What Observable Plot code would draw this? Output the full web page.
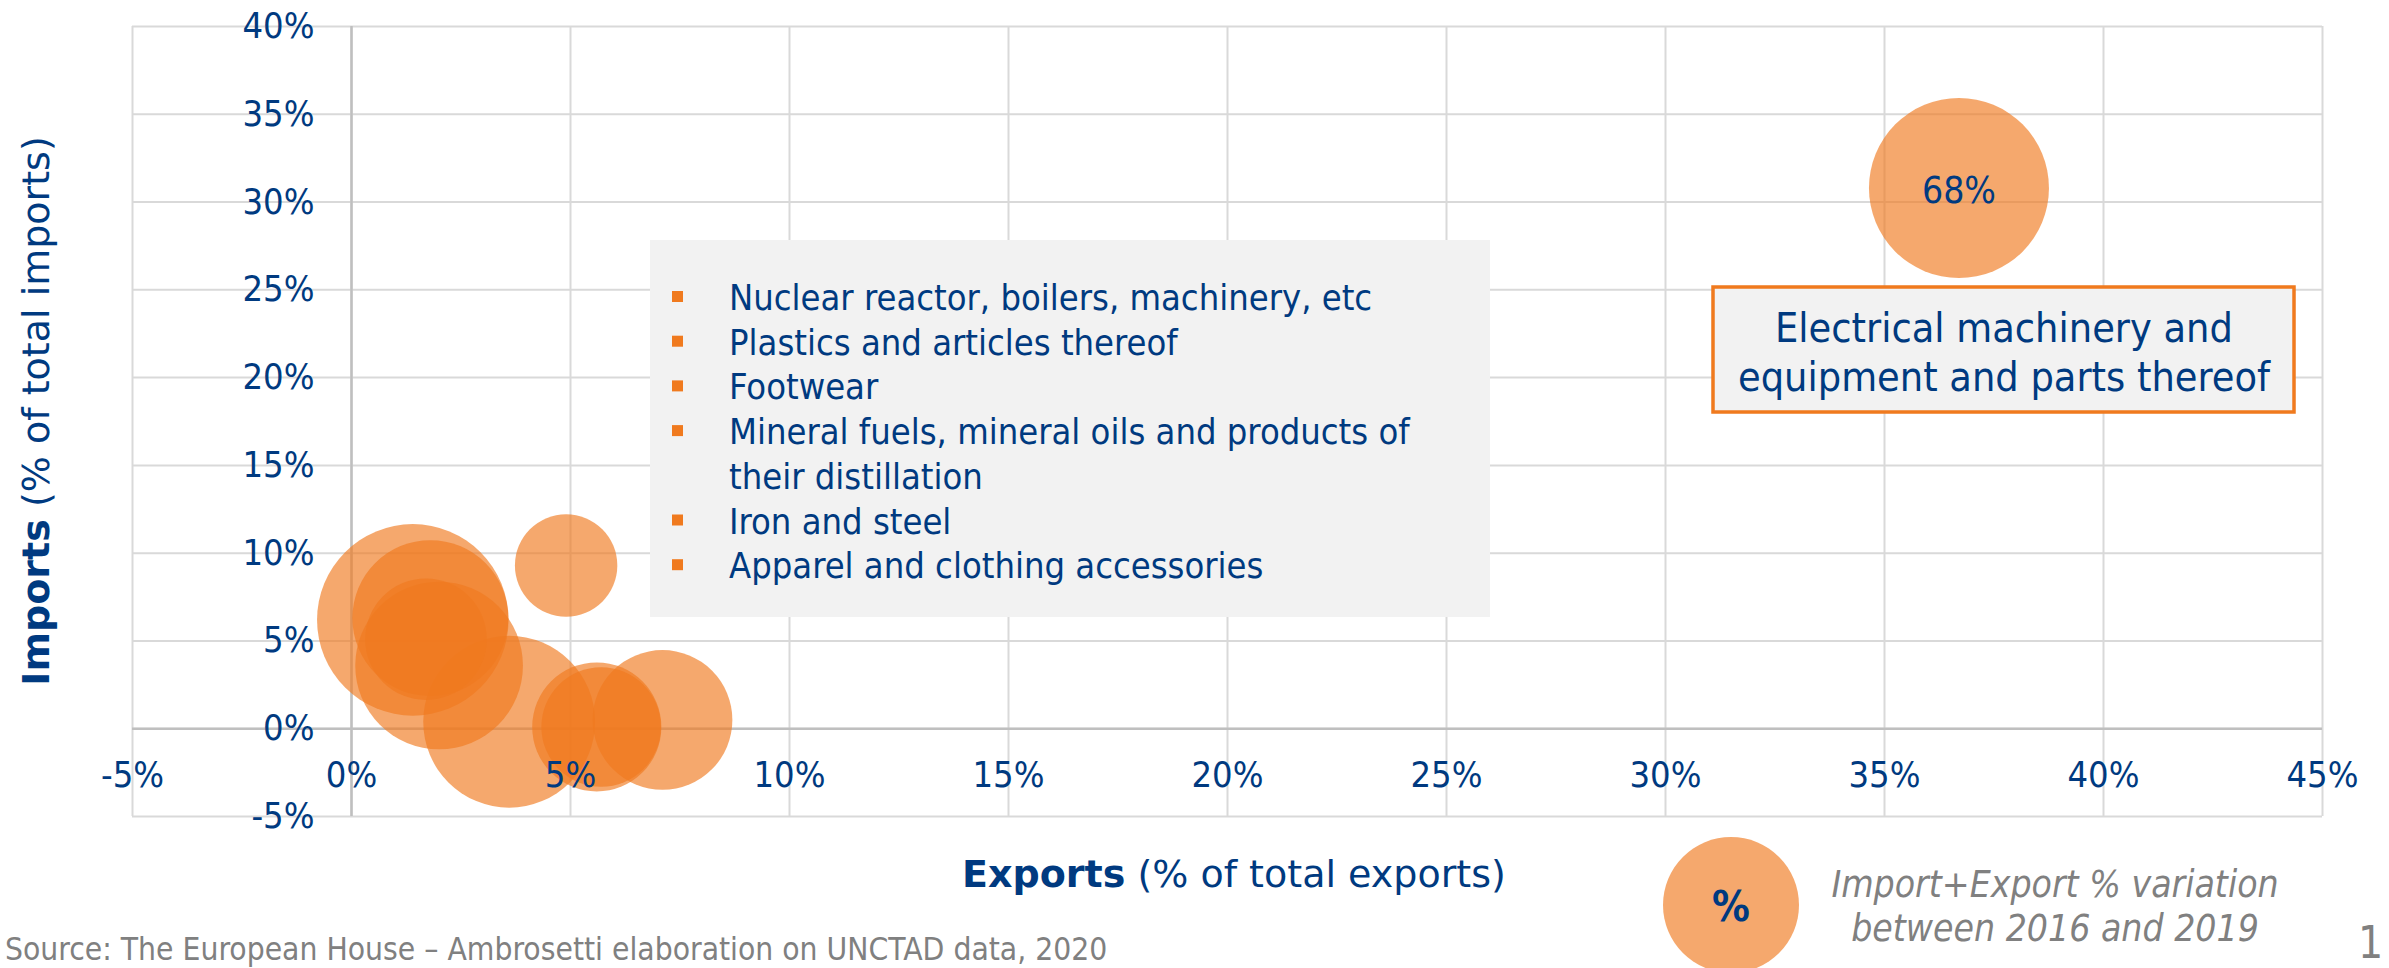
<!DOCTYPE html>
<html>
<head>
<meta charset="utf-8">
<script src="https://cdn.jsdelivr.net/npm/d3@7"></script>
<script src="https://cdn.jsdelivr.net/npm/@observablehq/plot@0.6"></script>
<style>
  html, body { margin: 0; padding: 0; background: #ffffff; }
  #wrap {
    position: relative; width: 2389px; height: 968px; overflow: hidden;
    font-family: "DejaVu Sans Condensed", "DejaVu Sans", sans-serif;
  }
  #wrap > svg { position: absolute; left: 0; top: 0; }
</style>
</head>
<body>
<div id="wrap"></div>
<script>
// Share of total exports (%), share of total imports (%) and
// import+export % variation 2016–2019, one entry per product category bubble
const exportsShare = [1.4, 1.8, 2.0, 1.7, 3.6, 4.9, 5.6, 5.7, 7.1, 36.7];
const importsShare = [6.2, 6.3, 3.6, 5.1, 0.4, 9.3, 0.1, 0.1, 0.5, 30.8];
const variation    = [77, 51, 59, 31, 62, 22, 35, 30, 41, 68];
const labelled     = [false, false, false, false, false, false, false, false, false, true];

const xTicks = [-5, 0, 5, 10, 15, 20, 25, 30, 35, 40, 45];
const yTicks = [-5, 0, 5, 10, 15, 20, 25, 30, 35, 40];

const legendItems = [
  ["Nuclear reactor, boilers, machinery, etc"],
  ["Plastics and articles thereof"],
  ["Footwear"],
  ["Mineral fuels, mineral oils and products of", "their distillation"],
  ["Iron and steel"],
  ["Apparel and clothing accessories"]
];
const highlightLines = ["Electrical machinery and", "equipment and parts thereof"];
const keyLines = ["Import+Export % variation", "between 2016 and 2019"];
const sourceText = "Source: The European House \u2013 Ambrosetti elaboration on UNCTAD data, 2020";

const BLUE = "#003a80";
const ORANGE = "#f07a1e";
const FONT = '"DejaVu Sans Condensed", "DejaVu Sans", sans-serif';
const WIDE_FONT = '"DejaVu Sans", sans-serif';

const bubbles = exportsShare.map((x, i) => ({
  x, y: importsShare[i], v: variation[i], labelled: labelled[i]
}));

const W = 2389, H = 968;

const chart = Plot.plot({
  width: W, height: H,
  marginLeft: 132, marginRight: 67, marginTop: 26, marginBottom: 152,
  x: {domain: [-5, 45], axis: null},
  y: {domain: [-5, 40], axis: null},
  r: {type: "sqrt", domain: [0, 68], range: [0, 90]},
  style: {fontFamily: FONT, background: "transparent"},
  marks: [
    Plot.ruleX(xTicks, {stroke: "#d9d9d9", strokeWidth: 2}),
    Plot.ruleY(yTicks, {stroke: "#d9d9d9", strokeWidth: 2}),
    Plot.ruleX([0], {stroke: "#bfbfbf", strokeWidth: 2.5}),
    Plot.ruleY([0], {stroke: "#bfbfbf", strokeWidth: 2.5}),
    Plot.dot(bubbles, {x: "x", y: "y", r: "v", fill: ORANGE, fillOpacity: 0.65, stroke: null}),
    // tick labels sit on the axes that cross at zero
    Plot.text(xTicks, {x: d => d, y: 0, dy: 47, text: d => `${d}%`, fontSize: 36, fill: BLUE}),
    Plot.text(yTicks, {x: 0, y: d => d, dx: -37, textAnchor: "end", text: d => `${d}%`, fontSize: 36, fill: BLUE}),
    Plot.text(bubbles.filter(d => d.labelled), {x: "x", y: "y", dy: 3, text: d => `${d.v}%`, fontSize: 37, fill: BLUE})
  ]
});
document.getElementById("wrap").appendChild(chart);

// Annotation layer: axis titles, category list, highlight box, bubble key, source
const svg = d3.select("#wrap").append("svg")
  .attr("width", W).attr("height", H)
  .attr("font-family", FONT);

// category list panel
svg.append("rect").attr("x", 650).attr("y", 240).attr("width", 840).attr("height", 377).attr("fill", "#f2f2f2");
let line = 0;
legendItems.forEach(item => {
  const base = 310 + line * 44.7;
  svg.append("rect").attr("x", 672).attr("y", base - 19).attr("width", 11).attr("height", 11).attr("fill", ORANGE);
  item.forEach((t, j) => {
    svg.append("text").attr("x", 729).attr("y", 310 + (line + j) * 44.7)
      .attr("font-size", 36).attr("fill", BLUE).text(t);
  });
  line += item.length;
});

// highlighted category box
svg.append("rect").attr("x", 1713).attr("y", 287).attr("width", 581).attr("height", 125)
  .attr("fill", "#f2f2f2").attr("stroke", ORANGE).attr("stroke-width", 3.5);
highlightLines.forEach((t, i) => {
  svg.append("text").attr("x", 2004).attr("y", 342 + i * 49).attr("text-anchor", "middle")
    .attr("font-size", 41).attr("fill", BLUE).text(t);
});

// axis titles
const xt = svg.append("text").attr("x", 962).attr("y", 887).attr("font-size", 38)
  .attr("font-family", WIDE_FONT).attr("fill", BLUE);
xt.append("tspan").attr("font-weight", "bold").text("Exports");
xt.append("tspan").text(" (% of total exports)");

const yt = svg.append("text").attr("transform", "translate(49,411) rotate(-90)")
  .attr("text-anchor", "middle").attr("font-size", 38).attr("font-family", WIDE_FONT).attr("fill", BLUE);
yt.append("tspan").attr("font-weight", "bold").text("Imports");
yt.append("tspan").text(" (% of total imports)");

// bubble key
svg.append("circle").attr("cx", 1731).attr("cy", 905).attr("r", 68).attr("fill", ORANGE).attr("fill-opacity", 0.65);
svg.append("text").attr("x", 1731).attr("y", 921).attr("text-anchor", "middle")
  .attr("font-size", 42).attr("font-weight", "bold").attr("fill", BLUE).text("%");
keyLines.forEach((t, i) => {
  svg.append("text").attr("x", 2055).attr("y", 897 + i * 44).attr("text-anchor", "middle")
    .attr("font-size", 37).attr("font-style", "italic").attr("fill", "#808080").text(t);
});

// source and page number
svg.append("text").attr("x", 5).attr("y", 960).attr("font-size", 31.5).attr("fill", "#808080").text(sourceText);
svg.append("text").attr("x", 2358).attr("y", 958).attr("font-size", 44).attr("fill", "#808080").text("1");
</script>
</body>
</html>
